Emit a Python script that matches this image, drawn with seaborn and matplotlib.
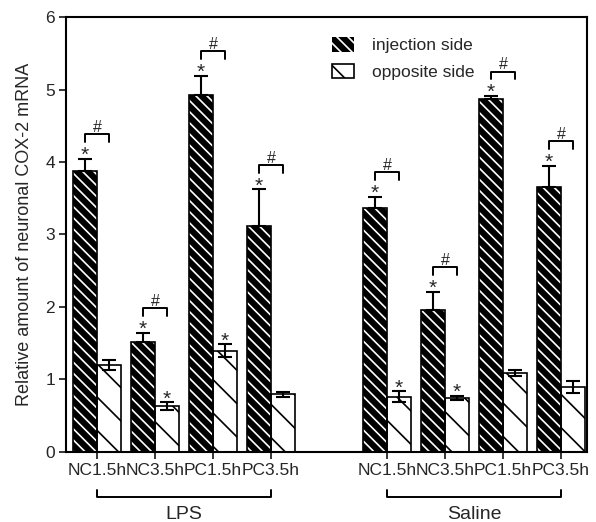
import matplotlib
matplotlib.use("Agg")
import matplotlib.pyplot as plt
import seaborn as sns
import pandas as pd
from matplotlib.patches import Patch

# data
conditions = ["NC1.5h", "NC3.5h", "PC1.5h", "PC3.5h"]
groups = ["LPS", "Saline"]
positions = [0, 1, 2, 3, 5, 6, 7, 8]
sides = ["injection side", "opposite side"]

injection_mean = [3.88, 1.52, 4.93, 3.12, 3.37, 1.96, 4.87, 3.65]
injection_err = [0.16, 0.12, 0.26, 0.50, 0.15, 0.25, 0.04, 0.30]
opposite_mean = [1.20, 0.63, 1.39, 0.79, 0.76, 0.74, 1.09, 0.89]
opposite_err = [0.07, 0.05, 0.09, 0.03, 0.07, 0.03, 0.04, 0.08]

injection_star = [True] * 8
opposite_star = [False, True, True, False, True, True, False, False]
pair_hash = [True] * 8

df = pd.DataFrame({
    "pos": positions * 2,
    "side": [sides[0]] * 8 + [sides[1]] * 8,
    "value": injection_mean + opposite_mean,
})

sns.set_style("white")
plt.rcParams["font.family"] = ["Liberation Sans", "DejaVu Sans"]
plt.rcParams["hatch.linewidth"] = 1.2

fig = plt.figure(figsize=(5.96, 5.22), dpi=100)
ax = fig.add_axes([0.111, 0.135, 0.874, 0.832])

width = 0.83
sns.barplot(data=df, x="pos", y="value", hue="side", hue_order=sides,
            native_scale=True, width=width, errorbar=None, legend=False,
            ax=ax, gap=0)

# style bars: dense white hatch on black, sparse black hatch on white
inj_bars, opp_bars = ax.containers[0], ax.containers[1]
for b in inj_bars:
    b.set_facecolor("black")
    b.set_edgecolor("white")
    b.set_hatch("\\\\\\")
    b.set_linewidth(0)
for b in opp_bars:
    b.set_facecolor("white")
    b.set_edgecolor("black")
    b.set_hatch("\\")
    b.set_linewidth(1.2)
for b in inj_bars:
    ax.add_patch(plt.Rectangle((b.get_x(), 0), b.get_width(), b.get_height(),
                               fill=False, edgecolor="black", lw=1.2, zorder=3))

half = width / 4
inj_x = [p - half for p in positions]
opp_x = [p + half for p in positions]

ax.errorbar(inj_x, injection_mean, yerr=[[0] * 8, injection_err], fmt="none",
            ecolor="black", elinewidth=1.5, capsize=5, capthick=1.5, zorder=4)
ax.errorbar(opp_x, opposite_mean, yerr=opposite_err, fmt="none",
            ecolor="black", elinewidth=1.5, capsize=5, capthick=1.5, zorder=4)

for i in range(8):
    itop = injection_mean[i] + injection_err[i]
    otop = opposite_mean[i] + opposite_err[i]
    if injection_star[i]:
        ax.text(inj_x[i], itop - 0.03, "*", ha="center", va="baseline", fontsize=15)
    if opposite_star[i]:
        ax.text(opp_x[i], otop - 0.03, "*", ha="center", va="baseline", fontsize=15)
    if pair_hash[i]:
        yb = max(itop, otop) + 0.34
        ax.plot([inj_x[i], inj_x[i], opp_x[i], opp_x[i]],
                [yb - 0.11, yb, yb, yb - 0.11], color="black", lw=1.4)
        ax.text(positions[i], yb + 0.03, "#", ha="center", va="baseline", fontsize=11.5)

ax.set_xlim(-0.53, 8.45)
ax.set_ylim(0, 6)
ax.set_yticks(range(7))
ax.set_xticks(positions)
ax.set_xticklabels(conditions * 2)
ax.tick_params(axis="both", labelsize=12.5, length=5, width=1.3, direction="out",
               bottom=True, left=True, pad=3)
ax.set_xlabel("")
ax.set_ylabel("Relative amount of neuronal COX-2 mRNA", fontsize=13, labelpad=9)
for s in ax.spines.values():
    s.set_visible(True)
    s.set_color("black")
    s.set_linewidth(1.5)

# group brackets under the tick labels
for g, name in enumerate(groups):
    x0, x1 = positions[4 * g], positions[4 * g + 3]
    ax.plot([x0, x0, x1, x1], [-0.53, -0.63, -0.63, -0.53], color="black",
            lw=1.4, clip_on=False)
    ax.text((x0 + x1) / 2, -0.87, name, ha="center", va="center", fontsize=14)

handles = [
    Patch(facecolor="black", edgecolor="white", hatch="\\\\\\", lw=0, label=sides[0]),
    Patch(facecolor="white", edgecolor="black", hatch="\\", lw=1.2, label=sides[1]),
]
ax.legend(handles=handles, loc="upper left", bbox_to_anchor=(0.48, 0.99),
          frameon=False, fontsize=12.5, handlelength=1.3, handleheight=0.9,
          handletextpad=1.0, labelspacing=0.6)

fig.savefig("out.png", dpi=100)
